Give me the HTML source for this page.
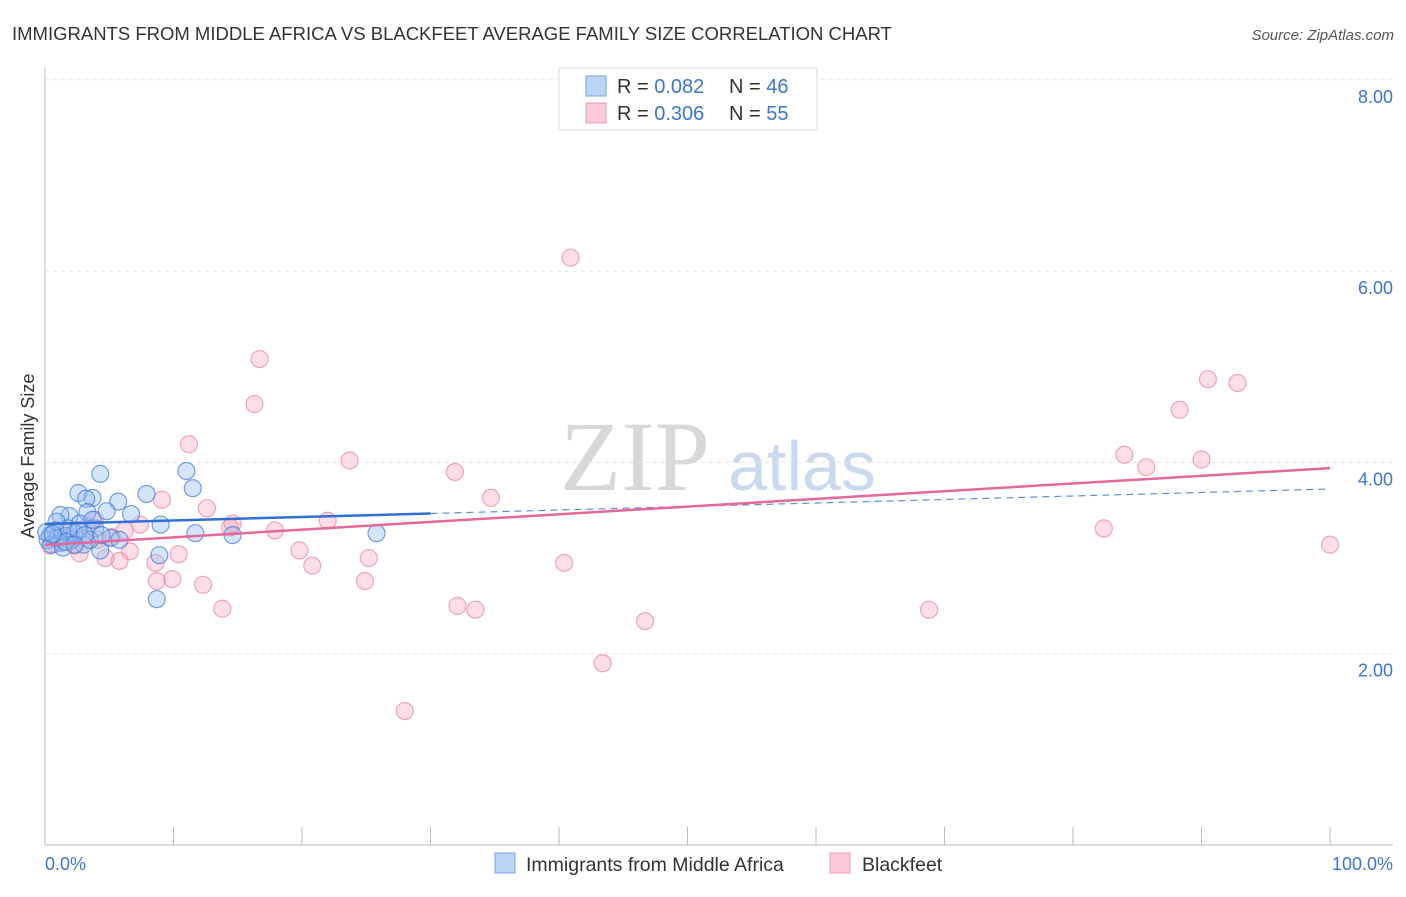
<!DOCTYPE html>
<html><head><meta charset="utf-8"><style>
body{margin:0;background:#fff;font-family:"Liberation Sans",sans-serif}
</style></head><body>
<svg id="c" width="1406" height="892" viewBox="0 0 1406 892" font-family="Liberation Sans, sans-serif">
<text x="12" y="40" font-size="18.5" fill="#333">IMMIGRANTS FROM MIDDLE AFRICA VS BLACKFEET AVERAGE FAMILY SIZE CORRELATION CHART</text>
<text x="1394" y="40" font-size="15" fill="#555" font-style="italic" text-anchor="end">Source: ZipAtlas.com</text>
<text x="635" y="490" font-size="100" fill="#d8d8d8" style="font-family:'Liberation Serif',serif" text-anchor="middle">ZIP</text>
<text x="802" y="490" font-size="70" fill="#c9daf0" text-anchor="middle">atlas</text>
<text transform="translate(34,456) rotate(-90)" font-size="18" fill="#333" text-anchor="middle">Average Family Size</text>
<g id="grid"></g><g id="pts"></g><g id="trend"></g>
<g>
<rect x="559" y="68" width="258" height="62" fill="#fff" stroke="#ddd"/>
<rect x="586" y="76" width="20" height="20" fill="#bcd4f5" stroke="#7aa6e8"/>
<rect x="586" y="103" width="20" height="20" fill="#f9c9d7" stroke="#ef9ab3"/>
<text x="617" y="93" font-size="20" fill="#333">R = <tspan fill="#3a74d4">0.082</tspan></text>
<text x="729" y="93" font-size="20" fill="#333">N = <tspan fill="#3a74d4">46</tspan></text>
<text x="617" y="120" font-size="20" fill="#333">R = <tspan fill="#3a74d4">0.306</tspan></text>
<text x="729" y="120" font-size="20" fill="#333">N = <tspan fill="#3a74d4">55</tspan></text>
</g>
<g>
<rect x="495" y="853" width="20" height="20" fill="#bcd4f5" stroke="#7aa6e8"/>
<text x="526" y="871" font-size="19.5" fill="#333">Immigrants from Middle Africa</text>
<rect x="830" y="853" width="20" height="20" fill="#f9c9d7" stroke="#ef9ab3"/>
<text x="862" y="871" font-size="19.5" fill="#333">Blackfeet</text>
</g>
<text x="45" y="870" font-size="18" fill="#3a74d4">0.0%</text>
<text x="1393" y="870" font-size="18" fill="#3a74d4" text-anchor="end">100.0%</text>
</svg>
<script>
const yTicks=[2,4,6,8];
const yTickLabels=["2.00","4.00","6.00","8.00"];
const blueX=[4.3,11.0,11.5,2.6,3.7,3.2,5.7,7.9,1.9,3.3,6.7,4.8,1.2,2.7,3.9,9.0,11.7,14.6,25.8,1.3,3.0,4.3,8.9,8.7,0.4,0.8,0.2,1.6,2.1,0.5,1.0,2.3,3.5,1.8,5.1,0.1,0.9,1.4,2.6,3.1,4.4,5.8,1.6,0.6,3.7,2.3];
const blueY=[3.88,3.91,3.73,3.68,3.63,3.62,3.59,3.67,3.44,3.48,3.46,3.49,3.45,3.36,3.31,3.35,3.26,3.24,3.26,3.16,3.14,3.08,3.03,2.57,3.24,3.29,3.19,3.23,3.19,3.14,3.21,3.26,3.19,3.31,3.21,3.27,3.38,3.11,3.29,3.24,3.24,3.19,3.17,3.25,3.40,3.14];
const pinkX=[40.9,16.7,16.3,11.2,23.7,31.9,34.7,9.1,12.6,90.5,92.8,88.3,84.0,85.7,90.0,82.4,100,22.0,14.6,17.9,14.4,7.4,6.2,19.8,25.2,6.6,10.4,5.8,8.6,20.8,40.4,9.9,8.7,24.9,12.3,32.1,33.5,13.8,68.8,46.7,43.4,28.0,5.2,4.1,3.1,1.6,0.8,0.4,4.7,2.3,1.2,3.9,2.7,3.3,1.9];
const pinkY=[6.14,5.08,4.61,4.19,4.02,3.90,3.63,3.61,3.52,4.87,4.83,4.55,4.08,3.95,4.03,3.31,3.14,3.39,3.36,3.29,3.32,3.35,3.29,3.08,3.00,3.07,3.04,2.97,2.95,2.92,2.95,2.78,2.76,2.76,2.72,2.50,2.46,2.47,2.46,2.34,1.90,1.40,3.22,3.19,3.21,3.19,3.15,3.13,3.00,3.13,3.29,3.40,3.05,3.33,3.23];
const blueTrend=[3.356,3.722];
const pinkTrend=[3.136,3.94];
const blueSolidEnd=30;
const X=v=>45+v/100*1285, Y=v=>845-v*95.65;
const NS="http://www.w3.org/2000/svg";
function mk(t,a,p){const e=document.createElementNS(NS,t);for(const k in a)e.setAttribute(k,a[k]);p.appendChild(e);return e;}
const grid=document.getElementById('grid');
mk('line',{x1:45,y1:68,x2:45,y2:845,stroke:'#bbb'},grid);
mk('line',{x1:45,y1:845,x2:1393,y2:845,stroke:'#bbb'},grid);
for(let i=1;i<=10;i++){mk('line',{x1:X(i*10),y1:827,x2:X(i*10),y2:845,stroke:'#bbb'},grid);}
yTicks.forEach((t,i)=>{
 const g=mk('line',{x1:45,y1:Y(t),x2:1393,y2:Y(t),stroke:'#e2e2e2','stroke-dasharray':'4,4'},grid);
 
 
 const tx=mk('text',{x:1393,y:Y(t)+23,'font-size':18,fill:'#3a74d4','text-anchor':'end'},grid);
 tx.textContent=yTickLabels[i];
 
 
});
const pts=document.getElementById('pts');
pinkX.forEach((x,i)=>{
 const c=mk('circle',{cx:X(x),cy:Y(pinkY[i]),r:8.5,fill:'rgba(244,160,186,0.35)',stroke:'rgba(236,130,162,0.7)','stroke-width':1.2},pts);
 
 
});
blueX.forEach((x,i)=>{
 const c=mk('circle',{cx:X(x),cy:Y(blueY[i]),r:8.5,fill:'rgba(150,190,240,0.4)',stroke:'rgba(60,120,220,0.7)','stroke-width':1.2},pts);
 
 
});
const tr=document.getElementById('trend');
const by=x=>blueTrend[0]+(blueTrend[1]-blueTrend[0])*x/100;
const l1=mk('line',{x1:X(0),y1:Y(by(0)),x2:X(blueSolidEnd),y2:Y(by(blueSolidEnd)),stroke:'#2f6fd6','stroke-width':2.5},tr);


const l2=mk('line',{x1:X(blueSolidEnd),y1:Y(by(blueSolidEnd)),x2:X(100),y2:Y(by(100)),stroke:'#5a8fe0','stroke-width':1.2,'stroke-dasharray':'7,5'},tr);


const l3=mk('line',{x1:X(0),y1:Y(pinkTrend[0]),x2:X(100),y2:Y(pinkTrend[1]),stroke:'#e4699a','stroke-width':2.5},tr);


</script>
</body></html>
